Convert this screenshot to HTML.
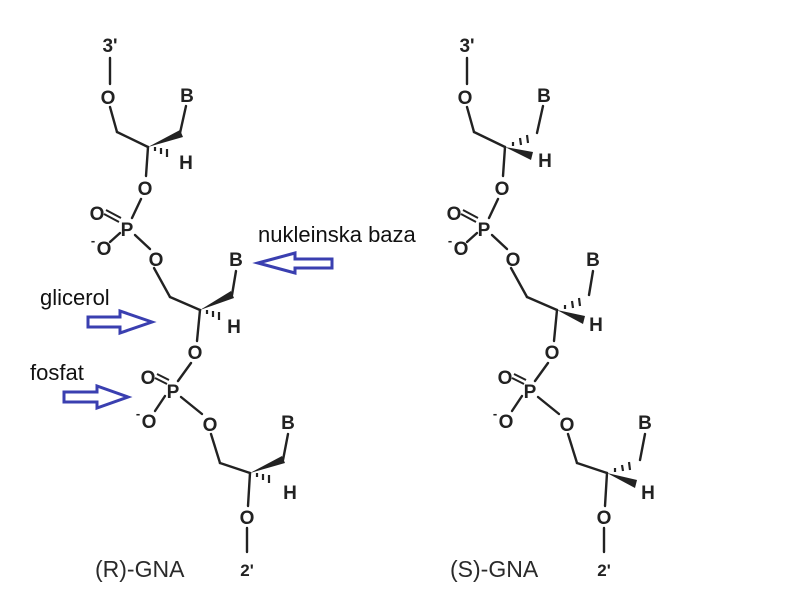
<!DOCTYPE html>
<html><head><meta charset="utf-8"><style>
html,body{margin:0;padding:0;background:#fff;}
svg{display:block;}
.a{font-family:"Liberation Sans",Arial,sans-serif;font-weight:bold;font-size:19px;fill:#222;text-anchor:middle;}
.lbl{font-family:"Liberation Sans",Arial,sans-serif;font-size:22px;fill:#111;}
.g{font-family:"Liberation Sans",Arial,sans-serif;font-size:23px;fill:#2a2a2a;}
</style></head><body>
<svg width="800" height="609" viewBox="0 0 800 609" xmlns="http://www.w3.org/2000/svg">
<defs>
<g id="mol">
 <g stroke="#222" stroke-width="2.4" fill="none" stroke-linecap="round">
  <line x1="110" y1="58" x2="110" y2="84"/>
  <line x1="110" y1="107" x2="117" y2="132"/>
  <line x1="117" y1="132" x2="148" y2="147"/>
  <line x1="148" y1="147" x2="146" y2="176"/>
  <line x1="141" y1="199" x2="132" y2="218"/>
  <line x1="120" y1="233" x2="110" y2="242"/>
  <line x1="135" y1="235" x2="150" y2="249"/>
  <line x1="154" y1="268" x2="170" y2="297"/>
  <line x1="170" y1="297" x2="200" y2="310"/>
  <line x1="200" y1="310" x2="197" y2="341"/>
  <line x1="191" y1="363" x2="178" y2="381"/>
  <line x1="165" y1="396" x2="155" y2="411"/>
  <line x1="181" y1="397" x2="202" y2="414"/>
  <line x1="211" y1="434" x2="220" y2="463"/>
  <line x1="220" y1="463" x2="250" y2="473"/>
  <line x1="250" y1="473" x2="248" y2="506"/>
  <line x1="247" y1="528" x2="247" y2="552"/>
 </g>
 <g stroke="#222" stroke-width="1.9">
  <line x1="104" y1="214" x2="119" y2="222"/><line x1="106" y1="210" x2="121" y2="218"/>
  <line x1="155" y1="378" x2="167" y2="384"/><line x1="157" y1="374" x2="169" y2="380"/>
 </g>
 <text class="a" x="110" y="52">3'</text>
 <text class="a" x="108" y="104">O</text>
 <text class="a" x="145" y="195">O</text>
 <text class="a" x="127" y="236">P</text>
 <text class="a" x="97" y="220">O</text>
 <text class="a" x="104" y="255">O</text><text class="a" x="93" y="245" style="font-size:13px">-</text>
 <text class="a" x="156" y="266">O</text>
 <text class="a" x="195" y="359">O</text>
 <text class="a" x="173" y="398">P</text>
 <text class="a" x="148" y="384">O</text>
 <text class="a" x="149" y="428">O</text><text class="a" x="138" y="418" style="font-size:13px">-</text>
 <text class="a" x="210" y="431">O</text>
 <text class="a" x="247" y="524">O</text>
 <text class="a" x="247" y="576" style="font-size:17px">2'</text>
</g>
</defs>

<use href="#mol"/>
<g stroke="#222" stroke-width="2.4" stroke-linecap="round">
 <line x1="180" y1="133" x2="186" y2="106"/>
 <line x1="232" y1="295" x2="236" y2="271"/>
 <line x1="283" y1="460" x2="288" y2="434"/>
</g>
<g fill="#222">
 <polygon points="148,147 180,130 183,137"/>
 <polygon points="200,310 231,291 234,298"/>
 <polygon points="250,473 282,456 285,463"/>
</g>
<g stroke="#222" stroke-width="2.2">
 <line x1="155" y1="147" x2="155" y2="151"/><line x1="161" y1="148" x2="161" y2="154"/><line x1="167" y1="149" x2="167" y2="157"/>
 <line x1="207" y1="310" x2="207" y2="314"/><line x1="213" y1="311" x2="213" y2="317"/><line x1="219" y1="312" x2="219" y2="320"/>
 <line x1="257" y1="473" x2="257" y2="477"/><line x1="263" y1="474" x2="263" y2="480"/><line x1="269" y1="475" x2="269" y2="483"/>
</g>
<text class="a" x="187" y="102">B</text><text class="a" x="186" y="169">H</text>
<text class="a" x="236" y="266">B</text><text class="a" x="234" y="333">H</text>
<text class="a" x="288" y="429">B</text><text class="a" x="290" y="499">H</text>
<text class="g" x="95" y="577">(R)-GNA</text>

<g transform="translate(357,0)">
<use href="#mol"/>
<g stroke="#222" stroke-width="2.4" stroke-linecap="round">
 <line x1="180" y1="133" x2="186" y2="106"/>
 <line x1="232" y1="295" x2="236" y2="271"/>
 <line x1="283" y1="460" x2="288" y2="434"/>
</g>
<g fill="#222">
 <polygon points="148,147 176,152 174,160"/>
 <polygon points="200,310 228,316 226,324"/>
 <polygon points="250,473 280,480 278,488"/>
</g>
<g stroke="#222" stroke-width="2.2">
 <line x1="156" y1="142" x2="156" y2="146"/><line x1="163" y1="138" x2="164" y2="145"/><line x1="170" y1="135" x2="171" y2="143"/>
 <line x1="208" y1="305" x2="208" y2="309"/><line x1="215" y1="301" x2="216" y2="308"/><line x1="222" y1="298" x2="223" y2="306"/>
 <line x1="258" y1="468" x2="258" y2="472"/><line x1="265" y1="465" x2="266" y2="471"/><line x1="272" y1="462" x2="273" y2="470"/>
</g>
<text class="a" x="187" y="102">B</text><text class="a" x="188" y="167">H</text>
<text class="a" x="236" y="266">B</text><text class="a" x="239" y="331">H</text>
<text class="a" x="288" y="429">B</text><text class="a" x="291" y="499">H</text>
<text class="g" x="93" y="577">(S)-GNA</text>
</g>

<text class="lbl" x="258" y="242">nukleinska baza</text>
<text class="lbl" x="40" y="305">glicerol</text>
<text class="lbl" x="30" y="380">fosfat</text>
<g fill="none" stroke="#3a3fb0" stroke-width="3" stroke-linejoin="miter">
 <polygon points="258,263 295,253 295,259 332,259 332,268 295,268 295,273"/>
 <polygon points="152,322 120,311 120,317 88,317 88,327 120,327 120,333"/>
 <polygon points="128,397 97,386 97,392 64,392 64,402 97,402 97,408"/>
</g>
</svg>
</body></html>
